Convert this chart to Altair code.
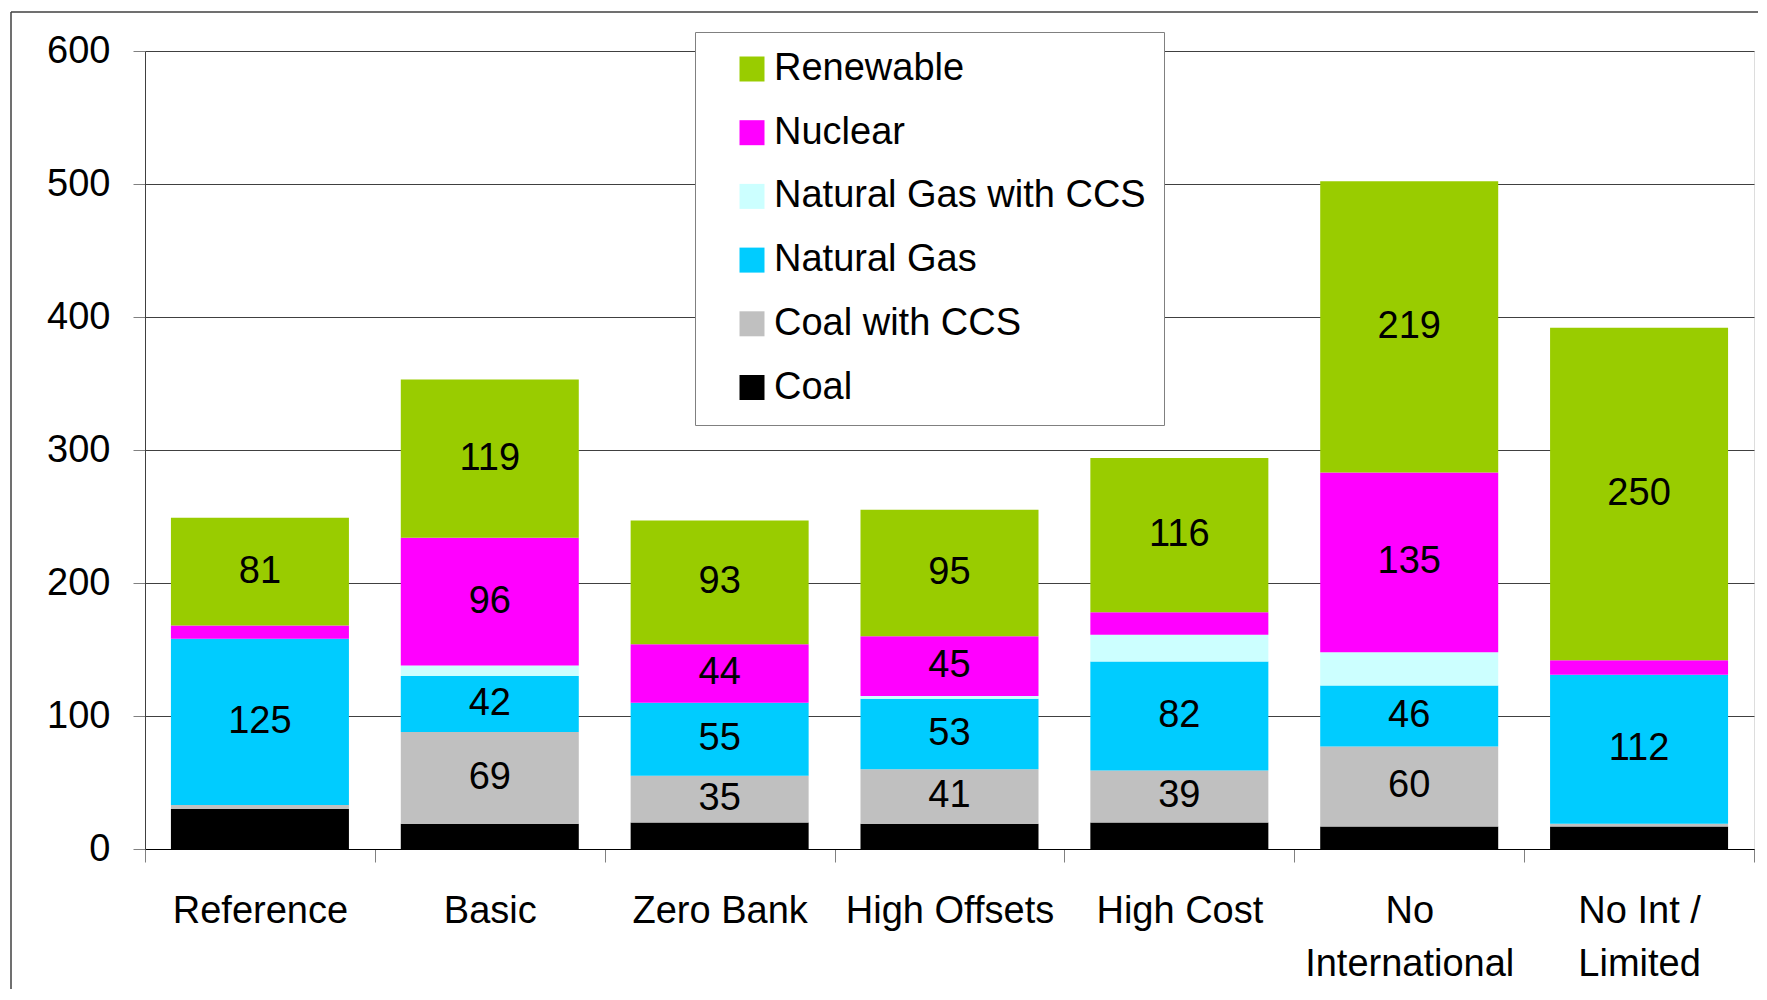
import altair as alt
import pandas as pd

categories = ["Reference", "Basic", "Zero Bank", "High Offsets", "High Cost",
              "No International", "No Int / Limited"]
coal = [30, 19, 20, 19, 20, 17, 17]
coal_ccs = [3, 69, 35, 41, 39, 60, 2]
natural_gas = [125, 42, 55, 53, 82, 46, 112]
natural_gas_ccs = [0, 8, 0, 2, 20, 25, 0]
nuclear = [10, 96, 44, 45, 17, 135, 11]
renewable = [81, 119, 93, 95, 116, 219, 250]

series_names = ["Coal", "Coal with CCS", "Natural Gas", "Natural Gas with CCS",
                "Nuclear", "Renewable"]
series_values = [coal, coal_ccs, natural_gas, natural_gas_ccs, nuclear, renewable]
legend_order = ["Renewable", "Nuclear", "Natural Gas with CCS", "Natural Gas",
                "Coal with CCS", "Coal"]
legend_colors = ["#99CC00", "#FF00FF", "#CCFFFF", "#00CCFF", "#C0C0C0", "#000000"]

rows = []
for si, (name, vals) in enumerate(zip(series_names, series_values)):
    for cat, v in zip(categories, vals):
        rows.append({"scenario": cat, "source": name, "value": v, "order": si})
df = pd.DataFrame(rows)

FONT = "Liberation Sans"

x_enc = alt.X(
    "scenario:N", sort=categories, title=None,
    scale=alt.Scale(paddingInner=0, paddingOuter=0),
    axis=alt.Axis(
        labelAngle=0, labelFontSize=38, labelFont=FONT, labelColor="#000000",
        labelPadding=30, labelLineHeight=53, tickBand="extent", tickSize=13,
        tickColor="#808080", domainColor="#000000", grid=False, labelLimit=400,
        labelExpr="datum.value == 'No International' ? ['No', 'International'] : "
                  "datum.value == 'No Int / Limited' ? ['No Int /', 'Limited'] : datum.value",
    ),
)

base = alt.Chart(df)

bars = base.mark_bar(size=178).encode(
    x=x_enc,
    y=alt.Y(
        "value:Q", stack="zero", title=None,
        scale=alt.Scale(domain=[0, 600], nice=False),
        axis=alt.Axis(
            values=[0, 100, 200, 300, 400, 500, 600], labelFontSize=38, labelFont=FONT,
            labelColor="#000000", labelPadding=23, tickSize=12, tickColor="#808080",
            domainColor="#404040", gridColor="#404040", gridWidth=1,
        ),
    ),
    color=alt.Color(
        "source:N",
        scale=alt.Scale(domain=legend_order, range=legend_colors),
        legend=alt.Legend(
            title=None, orient="none", legendX=550, legendY=-19,
            symbolType="square", symbolSize=625, symbolStrokeWidth=0,
            symbolOffset=20, labelOffset=3,
            labelFontSize=38, labelFont=FONT, labelColor="#000000",
            rowPadding=25.7, padding=18, strokeColor="#808080", fillColor="#FFFFFF",
            labelLimit=500,
        ),
    ),
    order=alt.Order("order:Q", sort="ascending"),
)

labels = base.transform_stack(
    stack="value", groupby=["scenario"], as_=["v0", "v1"],
    sort=[alt.SortField("order", order="ascending")],
).transform_calculate(
    mid="(datum.v0 + datum.v1) / 2"
).transform_filter(
    "datum.value >= 35"
).mark_text(fontSize=38, font=FONT, color="#000000", baseline="middle").encode(
    x=alt.X("scenario:N", sort=categories),
    y=alt.Y("mid:Q"),
    text=alt.Text("value:Q"),
)

frame = alt.Chart(pd.DataFrame({"k": [0]})).mark_rule(color="#404040", strokeWidth=1.5).encode(
    x=alt.value(-134), x2=alt.value(-134), y=alt.value(-39), y2=alt.value(960),
)
frame_top = alt.Chart(pd.DataFrame({"k": [0]})).mark_rule(color="#404040", strokeWidth=1.5).encode(
    x=alt.value(-134), x2=alt.value(1620), y=alt.value(-39), y2=alt.value(-39),
)

chart = alt.layer(bars, labels, frame, frame_top).properties(
    width=1609, height=798,
    autosize=alt.AutoSizeParams(type="none"),
    padding={"left": 137, "top": 43, "right": 4, "bottom": 140},
).configure_view(
    stroke="#606060", strokeWidth=1
).configure(background="#FFFFFF")

chart.save("out.html", embed_options={"renderer": "svg", "actions": False})
